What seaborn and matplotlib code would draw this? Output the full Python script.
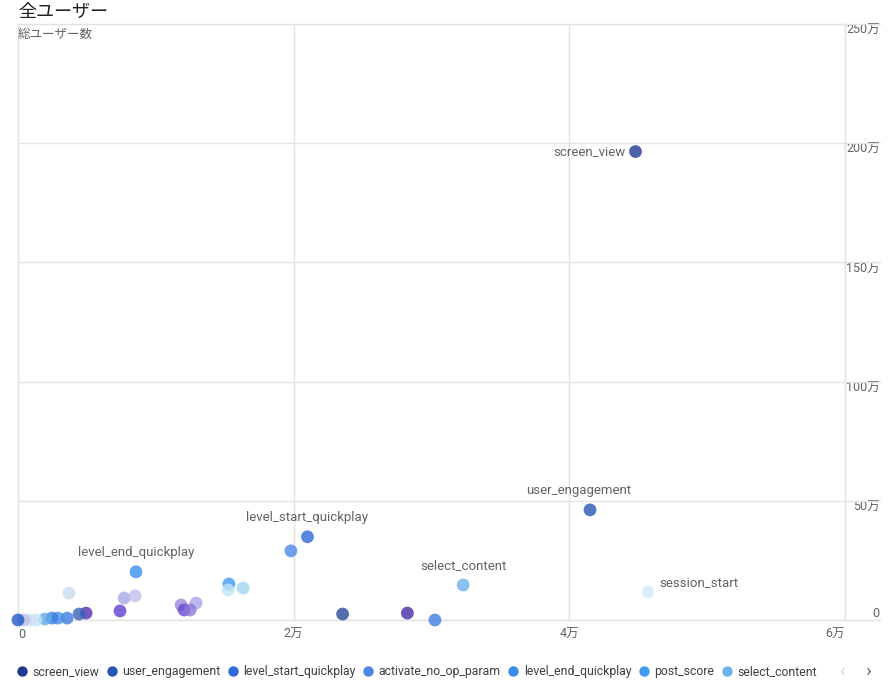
import numpy as np
import pandas as pd
import matplotlib
matplotlib.use('Agg')
import matplotlib.pyplot as plt
import matplotlib.transforms as mtransforms
from matplotlib.lines import Line2D
import seaborn as sns

# ---- data ----
EVENTS = [
    'screen_view', 'user_engagement', 'level_start_quickplay', 'activate_no_op_param',
    'level_end_quickplay', 'post_score', 'select_content', 'session_start',
    'event_09', 'event_10', 'event_11', 'event_12', 'event_13', 'event_14',
    'event_15', 'event_16', 'event_17', 'event_18', 'event_19', 'event_20',
    'event_21', 'event_22', 'event_23', 'event_24', 'event_25', 'event_26',
    'event_27', 'event_28', 'event_29', 'event_30', 'event_31',
]
# x: event count per user axis, y: total users
X_VALUES = [44800, 41500, 21000, 19800, 8560, 15300, 32300, 45700,
            23550, 28250, 30250, 15250, 16330, 3700, 7700, 8500,
            7400, 11830, 12920, 12050, 12490, 4940, 4430, 3560,
            2900, 2470, 1960, 1300, 870, 435, 0]
Y_VALUES = [1965000, 462000, 349000, 290000, 202000, 151000, 147000, 118000,
            25000, 29000, 0, 126000, 134000, 113000, 92000, 101000,
            38000, 63000, 71000, 42000, 42000, 29000, 25000, 8000,
            8000, 8000, 4000, 0, 0, 0, 0]
COLORS = ['#1f3c91', '#2756b5', '#2f6ad8', '#4d87e6', '#3b8ded', '#3e9bf0', '#6cb3ee', '#d3ecf9',
          '#2a4a9a', '#4b2aa8', '#3f7ee6', '#bfe4f5', '#9fd3f3', '#c7dcef', '#a8a8e4', '#bcc0e8',
          '#6040d0', '#9a88dc', '#a8a4e6', '#6a48c8', '#8c78dc', '#5530b0', '#3a64b8', '#3f7ee0',
          '#4a8ee8', '#3a80e0', '#5faaea', '#c0e4f5', '#cfe3f2', '#c4c0ec', '#1f55c8']

LABELED = ['screen_view', 'user_engagement', 'level_start_quickplay',
           'level_end_quickplay', 'select_content', 'session_start']
LEGEND_ITEMS = EVENTS[:7]

X_TICKS = [0, 20000, 40000, 60000]
X_TICKLABELS = ['0', '2万', '4万', '6万']
Y_TICKS = [0, 500000, 1000000, 1500000, 2000000, 2500000]
Y_TICKLABELS = ['0', '50万', '100万', '150万', '200万', '250万']

df = pd.DataFrame({'event': EVENTS, 'x': X_VALUES, 'y': Y_VALUES})
palette = dict(zip(EVENTS, COLORS))

sns.set_style('white')
plt.rcParams['font.family'] = ['Roboto', 'Noto Sans CJK JP', 'DejaVu Sans']

GRID = '#e3e3e3'
TEXT = '#5f6368'

fig = plt.figure(figsize=(8.95, 6.93), dpi=100)
ax = fig.add_axes([18 / 895, 1 - 620 / 693, 827 / 895, 596 / 693])

sns.scatterplot(data=df, x='x', y='y', hue='event', palette=palette,
                s=85, alpha=0.8, edgecolor='none', legend=False, ax=ax, zorder=3)
for coll in ax.collections:
    coll.set_clip_on(False)

ax.set_xlim(0, 60000)
ax.set_ylim(0, 2500000)
ax.set_xlabel('')
ax.set_ylabel('')

for sp in ax.spines.values():
    sp.set_color(GRID)
    sp.set_linewidth(1)
ax.grid(True, color=GRID, linewidth=1)
ax.set_axisbelow(True)

# x ticks
ax.set_xticks(X_TICKS)
ax.set_xticklabels(X_TICKLABELS)
ax.tick_params(axis='x', length=0, pad=6, labelsize=9, labelcolor=TEXT)
xl = ax.get_xticklabels()
xl[0].set_ha('left')
xl[-1].set_ha('right')

# y ticks on the right, right-aligned under the gridlines
ax.yaxis.tick_right()
ax.set_yticks(Y_TICKS)
ax.set_yticklabels(Y_TICKLABELS)
ax.tick_params(axis='y', length=0, pad=25, labelsize=9, labelcolor=TEXT)
for i, lbl in enumerate(ax.get_yticklabels()):
    lbl.set_ha('right')
    lbl.set_va('bottom' if i == 0 else 'top')

# gridlines continue under the right-hand labels
trans = mtransforms.blended_transform_factory(ax.transAxes, ax.transData)
for yv in Y_TICKS:
    ax.plot([1.0, 1.042], [yv, yv], transform=trans, color=GRID, lw=1, clip_on=False)

# point labels
offsets = {
    'screen_view': ((-7, 0), 'right', 'center'),
    'user_engagement': ((-8, 9), 'center', 'bottom'),
    'level_start_quickplay': ((0, 9), 'center', 'bottom'),
    'level_end_quickplay': ((0, 9), 'center', 'bottom'),
    'select_content': ((0, 9), 'center', 'bottom'),
    'session_start': ((8, 2), 'left', 'bottom'),
}
for name in LABELED:
    row = df[df['event'] == name].iloc[0]
    off, ha, va = offsets[name]
    ax.annotate(name, (row['x'], row['y']), xytext=off, textcoords='offset points',
                ha=ha, va=va, fontsize=9.5, color=TEXT)

# titles
fig.text(18 / 895, 1 - 12 / 693, '全ユーザー', fontsize=13, color='#202124',
         ha='left', va='center')
ax.text(0.0, 0.993, '総ユーザー数', transform=ax.transAxes, fontsize=9,
        color=TEXT, ha='left', va='top')

# legend
handles = [Line2D([0], [0], marker='o', linestyle='', markersize=7.5,
                  markerfacecolor=palette[n], markeredgecolor='none') for n in LEGEND_ITEMS]
leg = fig.legend(handles, LEGEND_ITEMS, loc='center left', ncol=7,
                 bbox_to_anchor=(17 / 895, 1 - 672 / 693), frameon=False,
                 fontsize=8.8, handletextpad=0.45, columnspacing=0.63,
                 handlelength=0.8, borderaxespad=0, borderpad=0)
for t in leg.get_texts():
    t.set_color('#3c4043')
fig.text(843 / 895, 1 - 671 / 693, '‹', fontsize=14, color='#d8d8d8', ha='center', va='center')
fig.text(868 / 895, 1 - 671 / 693, '›', fontsize=14, color='#5f6368', ha='center', va='center')

fig.savefig('out.png', dpi=100)
